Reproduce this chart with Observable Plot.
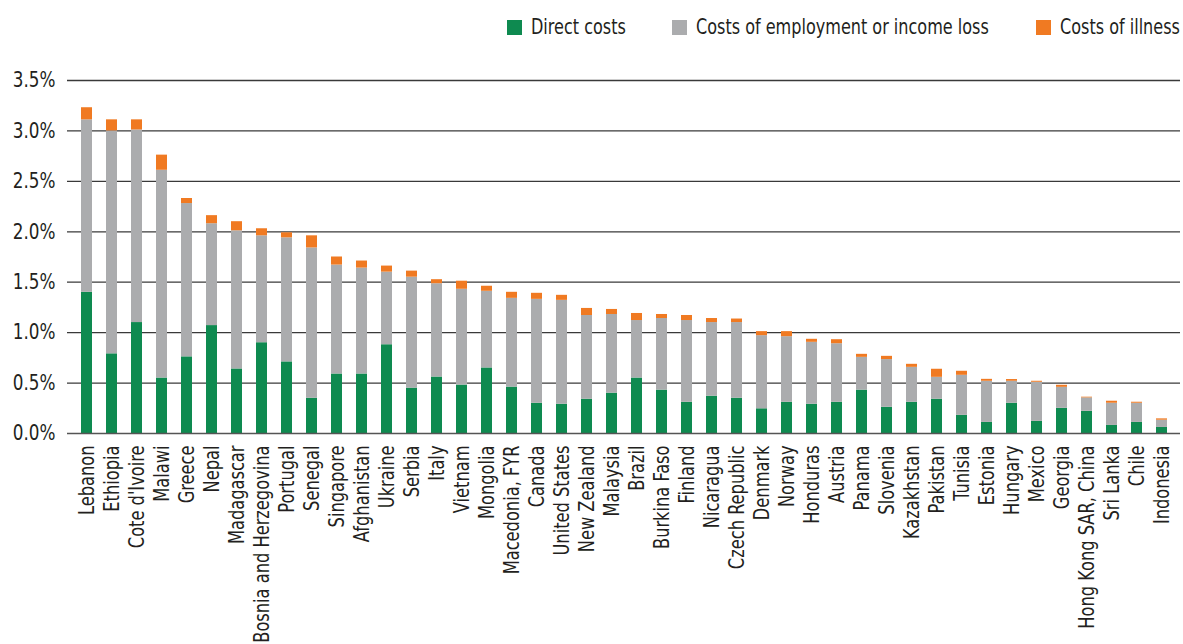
<!DOCTYPE html>
<html>
<head>
<meta charset="utf-8">
<script src="https://cdn.jsdelivr.net/npm/d3@7"></script>
<script src="https://cdn.jsdelivr.net/npm/@observablehq/plot@0.6"></script>
<style>
  html, body { margin: 0; padding: 0; background: #fff; }
  body { width: 1183px; height: 644px; position: relative; overflow: hidden;
         font-family: 'Liberation Sans Narrow', 'DejaVu Sans Condensed', sans-serif; color: #231f20; }
  #legend { position: absolute; top: 13px; left: 0; width: 1183px; height: 28px; font-size: 21px; }
  .item { position: absolute; top: 0; display: flex; align-items: center; height: 28px; white-space: nowrap; }
  .sw { width: 15px; height: 15px; margin-right: 9px; display: inline-block; flex: none; }
  .lbl { display: inline-block; transform: scaleX(0.85); transform-origin: 0 50%; }
  #chart { position: absolute; top: 0; left: 0; }
</style>
</head>
<body>
<div id="chart"></div>
<div id="legend"></div>
<script>
const countries = ["Lebanon","Ethiopia","Cote d'Ivoire","Malawi","Greece","Nepal","Madagascar","Bosnia and Herzegovina","Portugal","Senegal","Singapore","Afghanistan","Ukraine","Serbia","Italy","Vietnam","Mongolia","Macedonia, FYR","Canada","United States","New Zealand","Malaysia","Brazil","Burkina Faso","Finland","Nicaragua","Czech Republic","Denmark","Norway","Honduras","Austria","Panama","Slovenia","Kazakhstan","Pakistan","Tunisia","Estonia","Hungary","Mexico","Georgia","Hong Kong SAR, China","Sri Lanka","Chile","Indonesia"];
const directCosts = [1.40,0.79,1.10,0.55,0.76,1.07,0.64,0.90,0.71,0.35,0.59,0.59,0.88,0.45,0.56,0.48,0.65,0.46,0.30,0.29,0.34,0.40,0.55,0.43,0.31,0.37,0.35,0.245,0.31,0.29,0.31,0.43,0.26,0.31,0.34,0.18,0.11,0.30,0.12,0.25,0.22,0.08,0.11,0.06];
const employmentCosts = [1.71,2.21,1.91,2.06,1.52,1.01,1.37,1.06,1.23,1.49,1.08,1.05,0.72,1.10,0.925,0.95,0.76,0.88,1.03,1.03,0.83,0.78,0.57,0.71,0.81,0.73,0.75,0.725,0.65,0.614,0.58,0.325,0.473,0.346,0.217,0.397,0.408,0.218,0.388,0.208,0.133,0.22,0.19,0.072];
const illnessCosts = [0.12,0.11,0.10,0.15,0.05,0.08,0.09,0.07,0.05,0.12,0.08,0.07,0.06,0.06,0.04,0.08,0.05,0.06,0.06,0.05,0.07,0.05,0.07,0.04,0.05,0.04,0.035,0.04,0.05,0.03,0.04,0.03,0.032,0.03,0.08,0.04,0.019,0.017,0.01,0.02,0.007,0.02,0.01,0.013];
const seriesNames = ["Direct costs","Costs of employment or income loss","Costs of illness"];
const seriesColors = ["#0e8a50","#abacae","#f07a22"];
const yTicks = [0,0.5,1.0,1.5,2.0,2.5,3.0,3.5];

const seriesValues = [directCosts, employmentCosts, illnessCosts];
const data = [];
seriesNames.forEach((s, si) => {
  countries.forEach((c, ci) => data.push({country: c, series: s, value: seriesValues[si][ci]}));
});

const font = "'Liberation Sans Narrow', 'DejaVu Sans Condensed', sans-serif";
const chart = Plot.plot({
  width: 1183,
  height: 644,
  marginLeft: 67,
  marginRight: 3,
  marginTop: 80,
  marginBottom: 211,
  style: {fontFamily: font, fontSize: "21px", color: "#231f20", background: "#fff"},
  x: {domain: countries, paddingInner: 0.56, paddingOuter: 0.28, label: null},
  y: {domain: [0, 3.5], label: null},
  color: {domain: seriesNames, range: seriesColors},
  marks: [
    Plot.ruleY(yTicks.filter(d => d > 0), {stroke: "#3a3a3a", strokeWidth: 1.3}),
    Plot.barY(data, {x: "country", y: "value", fill: "series"}),
    Plot.ruleY([0], {stroke: "#555", strokeWidth: 1.5}),
    Plot.axisY({ticks: yTicks, tickFormat: d => d.toFixed(1) + "%", tickSize: 0, tickPadding: 12, label: null, fontSize: 21}),
    Plot.axisX({tickRotate: -90, tickSize: 0, tickPadding: 12, label: null, fontSize: 21})
  ]
});
document.getElementById("chart").appendChild(chart);

// condense axis text along its reading direction (narrow typeface look)
function condense(sel, s) {
  chart.querySelectorAll(sel).forEach(t => {
    const len = t.getComputedTextLength();
    if (len > 0) {
      t.setAttribute("textLength", (len * s).toFixed(2));
      t.setAttribute("lengthAdjust", "spacingAndGlyphs");
    }
  });
}
condense('g[aria-label="x-axis tick label"] text', 0.86);
condense('g[aria-label="y-axis tick label"] text', 0.89);

const legend = document.getElementById("legend");
const legendLeft = [507, 672, 1036];
seriesNames.forEach((s, i) => {
  const it = document.createElement("div");
  it.className = "item";
  it.style.left = legendLeft[i] + "px";
  it.innerHTML = `<span class="sw" style="background:${seriesColors[i]}"></span><span class="lbl">${s}</span>`;
  legend.appendChild(it);
});
</script>
</body>
</html>
